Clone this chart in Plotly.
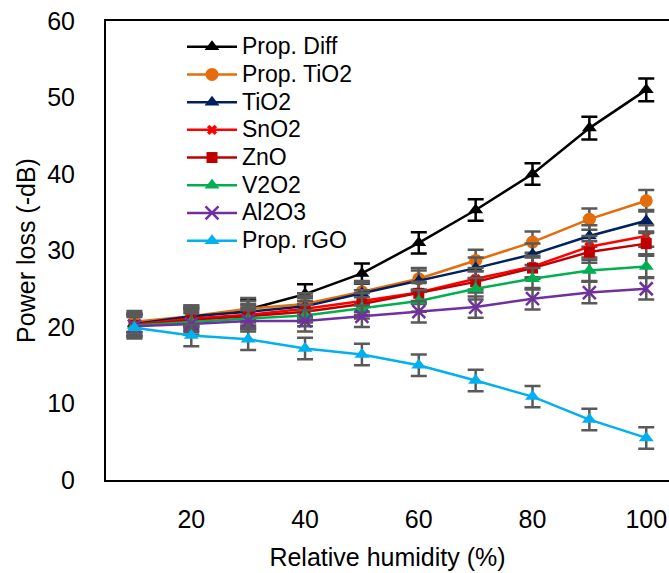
import plotly.graph_objects as go

humidity = [10, 20, 30, 40, 50, 60, 70, 80, 90, 100]

prop_diff = [20.5, 21.3, 22.3, 24.3, 27.0, 31.0, 35.3, 40.0, 46.0, 51.0]
prop_tio2 = [20.7, 21.4, 22.4, 23.0, 24.6, 26.3, 28.7, 31.1, 34.1, 36.5]
tio2 = [20.4, 21.4, 22.0, 22.7, 24.4, 26.0, 27.7, 29.5, 31.9, 33.9]
sno2 = [20.3, 21.1, 21.6, 22.4, 23.4, 24.5, 26.3, 27.9, 30.5, 31.9]
zno = [20.2, 20.9, 21.4, 22.0, 23.0, 24.4, 25.9, 27.7, 29.8, 30.9]
v2o2 = [20.2, 20.7, 21.1, 21.5, 22.5, 23.4, 25.0, 26.3, 27.4, 27.9]
al2o3 = [20.1, 20.4, 20.8, 20.8, 21.4, 22.0, 22.6, 23.7, 24.5, 25.0]
prop_rgo = [19.9, 18.9, 18.4, 17.2, 16.4, 15.0, 13.0, 10.9, 7.9, 5.5]

err_diff = [1.2, 1.2, 1.2, 1.3, 1.3, 1.4, 1.4, 1.4, 1.5, 1.5]
err_other = [1.4, 1.4, 1.4, 1.4, 1.4, 1.4, 1.4, 1.4, 1.4, 1.4]

series = [
    ("Prop. Diff", prop_diff, err_diff, "#000000", "triangle-up", 13, "#000000"),
    ("Prop. TiO2", prop_tio2, err_other, "#E46C0A", "circle", 13, "#595959"),
    ("TiO2", tio2, err_other, "#002060", "triangle-up", 13, "#595959"),
    ("SnO2", sno2, err_other, "#FF0000", "x", 9, "#595959"),
    ("ZnO", zno, err_other, "#C00000", "square", 11, "#595959"),
    ("V2O2", v2o2, err_other, "#00B050", "triangle-up", 13, "#595959"),
    ("Al2O3", al2o3, err_other, "#7030A0", "x-thin", 13, "#595959"),
    ("Prop. rGO", prop_rgo, err_other, "#00B0F0", "triangle-up", 13, "#595959"),
]

font = "Liberation Sans, Arial, sans-serif"

fig = go.Figure()
for name, vals, err, color, sym, size, ecol in series:
    fig.add_trace(go.Scatter(
        x=humidity, y=vals,
        name='<span style="font-size:23px">' + name + '</span>',
        mode="lines+markers",
        line=dict(color=color, width=2.5),
        marker=dict(symbol=sym, size=size, color=color,
                    line=dict(color=color, width=2.5 if sym == "x-thin" else 0)),
        error_y=dict(type="data", array=err, visible=True, color=ecol,
                     thickness=2.5, width=8),
    ))

fig.update_layout(
    width=669, height=573,
    margin=dict(l=106, r=0, t=21, b=93),
    paper_bgcolor="white", plot_bgcolor="white",
    font=dict(family=font, color="#000000", size=25),
    showlegend=True,
    legend=dict(x=0.135, y=0.985, xanchor="left", yanchor="top",
                font=dict(family=font, size=19, color="#000000"),
                bgcolor="rgba(0,0,0,0)", itemwidth=50, tracegroupgap=0),
    xaxis=dict(range=[5, 104], tickvals=[20, 40, 60, 80, 100],
               showgrid=False, zeroline=False, showline=True, mirror=True,
               linecolor="#000000", linewidth=2, ticks="",
               ticklabelstandoff=16, ticklabeloverflow="allow",
               tickfont=dict(size=25),
               title=dict(text="Relative humidity (%)", font=dict(size=25), standoff=16),
               automargin=False),
    yaxis=dict(range=[0, 60], dtick=10, showgrid=False, zeroline=False,
               showline=True, mirror=False, linecolor="#000000", linewidth=2,
               ticks="", ticklabelstandoff=24, tickfont=dict(size=25),
               title=dict(text="Power loss (-dB)", font=dict(size=25), standoff=4),
               automargin=False),
)

fig.write_html("out.html")
